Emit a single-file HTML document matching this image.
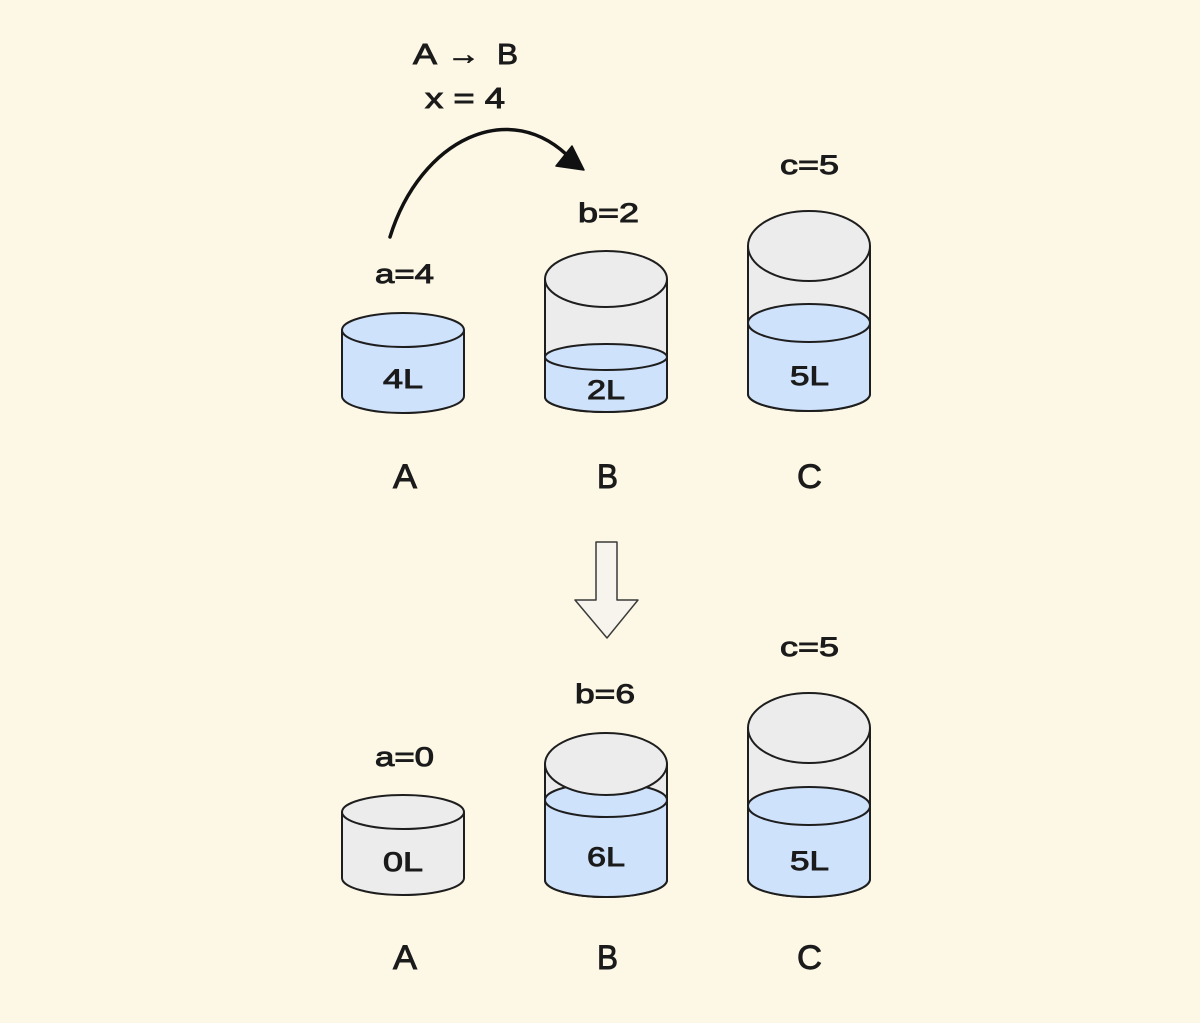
<!DOCTYPE html>
<html>
<head>
<meta charset="utf-8">
<style>
  html,body{margin:0;padding:0;background:#fdf8e6;}
  svg{display:block;}
  text{font-family:"Liberation Sans",sans-serif;fill:#1b1b1b;dominant-baseline:central;stroke:#1b1b1b;stroke-width:0.9px;}
</style>
</head>
<body>
<svg width="1200" height="1023" viewBox="0 0 1200 1023" xmlns="http://www.w3.org/2000/svg">
  <rect x="0" y="0" width="1200" height="1023" fill="#fdf8e6"/>

  <!-- Header -->
  <text x="413" y="55" font-size="29" textLength="24" lengthAdjust="spacingAndGlyphs">A</text>
  <text x="447" y="55" font-size="29" textLength="33" lengthAdjust="spacingAndGlyphs" stroke-width="0.6">→</text>
  <text x="497" y="55" font-size="29" textLength="21" lengthAdjust="spacingAndGlyphs">B</text>
  <text x="425" y="99" font-size="29" textLength="80" lengthAdjust="spacingAndGlyphs">x = 4</text>

  <!-- Curved arrow -->
  <path d="M390,237 C420,140 510,95 572,160" fill="none" stroke="#111" stroke-width="3.5" stroke-linecap="round"/>
  <polygon points="584,170 556,166 572,146" fill="#111" stroke="#111" stroke-width="1.5" stroke-linejoin="round"/>

  <g stroke="#1e1e1e" stroke-width="2" stroke-linejoin="round">
    <!-- Top A (full) -->
    <path d="M342,330 L342,396 A61,17 0 0 0 464,396 L464,330 Z" fill="#cfe2fb"/>
    <ellipse cx="403" cy="330" rx="61" ry="17" fill="#cfe2fb"/>

    <!-- Top B -->
    <path d="M545,279 L545,397 A61,15 0 0 0 667,397 L667,279 Z" fill="#ececec"/>
    <path d="M545,357 L545,397 A61,15 0 0 0 667,397 L667,357 Z" fill="#cfe2fb" stroke="none"/>
    <path d="M545,279 L545,397 A61,15 0 0 0 667,397 L667,279" fill="none"/>
    <ellipse cx="606" cy="357" rx="61" ry="13" fill="#cfe2fb"/>
    <ellipse cx="606" cy="279" rx="61" ry="28" fill="#ececec"/>

    <!-- Top C -->
    <path d="M748,246 L748,394 A61,17 0 0 0 870,394 L870,246 Z" fill="#ececec"/>
    <path d="M748,323 L748,394 A61,17 0 0 0 870,394 L870,323 Z" fill="#cfe2fb" stroke="none"/>
    <path d="M748,246 L748,394 A61,17 0 0 0 870,394 L870,246" fill="none"/>
    <ellipse cx="809" cy="323" rx="61" ry="19" fill="#cfe2fb"/>
    <ellipse cx="809" cy="246" rx="61" ry="35" fill="#ececec"/>

    <!-- Bottom A (empty) -->
    <path d="M342,812 L342,878 A61,17 0 0 0 464,878 L464,812 Z" fill="#ececec"/>
    <ellipse cx="403" cy="812" rx="61" ry="17" fill="#ececec"/>

    <!-- Bottom B -->
    <path d="M545,764 L545,880 A61,17 0 0 0 667,880 L667,764 Z" fill="#ececec"/>
    <path d="M545,800 L545,880 A61,17 0 0 0 667,880 L667,800 Z" fill="#cfe2fb" stroke="none"/>
    <path d="M545,764 L545,880 A61,17 0 0 0 667,880 L667,764" fill="none"/>
    <ellipse cx="606" cy="800" rx="61" ry="17" fill="#cfe2fb"/>
    <ellipse cx="606" cy="764" rx="61" ry="31" fill="#ececec"/>

    <!-- Bottom C -->
    <path d="M748,728 L748,879 A61,18 0 0 0 870,879 L870,728 Z" fill="#ececec"/>
    <path d="M748,806 L748,879 A61,18 0 0 0 870,879 L870,806 Z" fill="#cfe2fb" stroke="none"/>
    <path d="M748,728 L748,879 A61,18 0 0 0 870,879 L870,728" fill="none"/>
    <ellipse cx="809" cy="806" rx="61" ry="19" fill="#cfe2fb"/>
    <ellipse cx="809" cy="728" rx="61" ry="35" fill="#ececec"/>
  </g>

  <!-- Down arrow -->
  <polygon points="596,542 617,542 617,600 638,600 607,638 575,600 596,600" fill="#f6f4ec" stroke="#3a3a3a" stroke-width="1.5" stroke-linejoin="round"/>

  <!-- Top labels -->
  <text x="375" y="274" font-size="27" textLength="59" lengthAdjust="spacingAndGlyphs">a=4</text>
  <text x="578" y="213" font-size="27" textLength="61" lengthAdjust="spacingAndGlyphs">b=2</text>
  <text x="780" y="165" font-size="27" textLength="59" lengthAdjust="spacingAndGlyphs">c=5</text>
  <text x="383" y="379" font-size="27" textLength="40" lengthAdjust="spacingAndGlyphs">4L</text>
  <text x="587" y="390" font-size="27" textLength="38" lengthAdjust="spacingAndGlyphs">2L</text>
  <text x="790" y="376" font-size="27" textLength="39" lengthAdjust="spacingAndGlyphs">5L</text>
  <text x="393" y="477" font-size="34" textLength="24" lengthAdjust="spacingAndGlyphs">A</text>
  <text x="597" y="477" font-size="34" textLength="21" lengthAdjust="spacingAndGlyphs">B</text>
  <text x="797" y="477" font-size="34" textLength="25" lengthAdjust="spacingAndGlyphs">C</text>

  <!-- Bottom labels -->
  <text x="375" y="757" font-size="27" textLength="59" lengthAdjust="spacingAndGlyphs">a=0</text>
  <text x="575" y="694" font-size="27" textLength="60" lengthAdjust="spacingAndGlyphs">b=6</text>
  <text x="780" y="647" font-size="27" textLength="59" lengthAdjust="spacingAndGlyphs">c=5</text>
  <text x="383" y="862" font-size="27" textLength="40" lengthAdjust="spacingAndGlyphs">0L</text>
  <text x="587" y="857" font-size="27" textLength="38" lengthAdjust="spacingAndGlyphs">6L</text>
  <text x="790" y="861" font-size="27" textLength="39" lengthAdjust="spacingAndGlyphs">5L</text>
  <text x="393" y="958" font-size="34" textLength="24" lengthAdjust="spacingAndGlyphs">A</text>
  <text x="597" y="958" font-size="34" textLength="21" lengthAdjust="spacingAndGlyphs">B</text>
  <text x="797" y="958" font-size="34" textLength="25" lengthAdjust="spacingAndGlyphs">C</text>
</svg>
</body>
</html>
